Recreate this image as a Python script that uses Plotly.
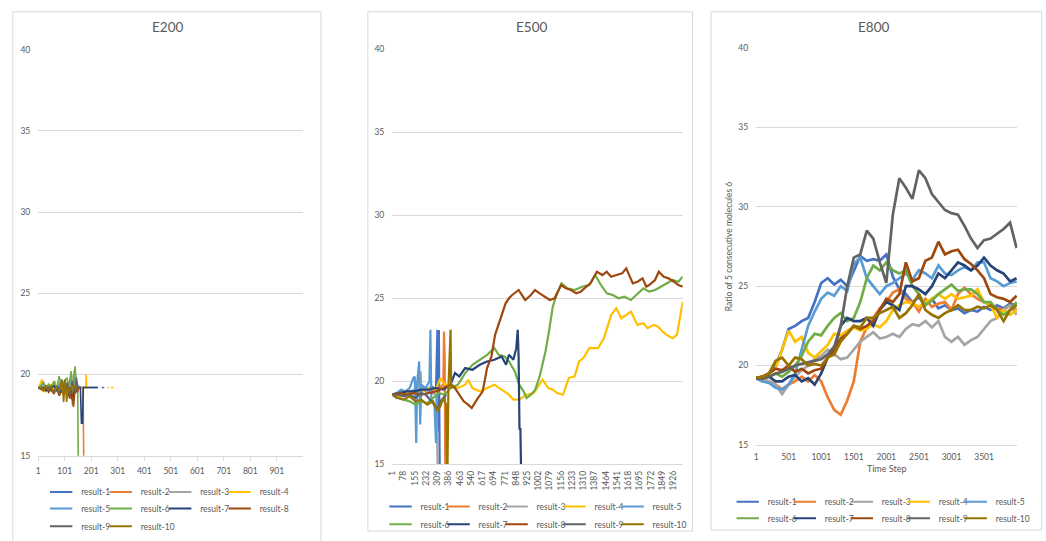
import plotly.graph_objects as go

W, H = 1046, 541
FONT = "Lato, 'Liberation Sans', sans-serif"
TXT = "#595959"
GRID = "#d9d9d9"

NAMES = ["result-1", "result-2", "result-3", "result-4", "result-5",
         "result-6", "result-7", "result-8", "result-9", "result-10"]
COLORS = ["#4472C4", "#ED7D31", "#A5A5A5", "#FFC000", "#5B9BD5",
          "#70AD47", "#264478", "#9E480E", "#636363", "#997300"]

# ---------------- E200 (time step, value) ----------------
E200_R1 = [(1, 19.2), (10, 19.3), (20, 19.1), (30, 19.3), (40, 19.2), (50, 19.0), (60, 19.4), (70, 19.1),
           (80, 19.3), (90, 19.0), (100, 19.5), (110, 19.1), (120, 19.6), (130, 19.0), (134, 20.0), (140, 19.2),
           (150, 19.3), (160, 19.2), (200, 19.2), (226, 19.2), (232, None), (240, 19.2), (250, 19.2)]
E200_R2 = [(1, 19.2), (10, 19.1), (20, 19.2), (30, 19.0), (40, 19.3), (50, 19.1), (60, 18.8), (70, 19.2),
           (80, 18.7), (90, 19.1), (100, 19.0), (110, 19.3), (120, 18.9), (130, 19.2), (140, 18.8), (150, 19.2),
           (160, 19.2), (170, 19.2), (173, 14.0)]
E200_R3 = [(1, 19.2), (10, 19.3), (20, 19.6), (30, 19.1), (40, 19.4), (50, 19.0), (60, 19.3), (70, 19.1),
           (80, 19.5), (90, 18.9), (100, 19.4), (110, 19.0), (120, 19.5), (130, 19.0), (140, 19.3), (150, 19.2)]
E200_R4 = [(1, 19.2), (8, 19.4), (14, 19.7), (20, 19.0), (26, 18.9), (32, 19.3), (40, 19.1), (48, 19.4),
           (56, 19.2), (64, 19.6), (72, 19.0), (80, 19.3), (90, 19.2), (100, 19.5), (110, 19.1), (120, 19.4),
           (130, 19.2), (136, 20.2), (142, 19.2), (160, 19.2), (180, 19.2), (182, 20.0), (184, 19.2), (200, 19.2),
           (205, None), (262, 19.2), (268, 19.2), (271, None), (275, 19.2), (285, 19.2)]
E200_R5 = [(1, 19.2), (10, 19.2), (20, 19.4), (30, 19.0), (40, 19.3), (50, 19.1), (60, 19.5), (70, 19.0),
           (80, 19.4), (90, 19.1), (100, 19.6), (110, 19.0), (120, 19.7), (130, 19.1), (140, 19.9), (146, 19.2),
           (160, 19.2)]
E200_R6 = [(1, 19.2), (10, 19.3), (20, 19.5), (30, 19.1), (40, 19.4), (50, 19.2), (60, 19.6), (70, 19.0),
           (80, 19.9), (90, 19.1), (100, 19.6), (110, 19.8), (115, 19.0), (120, 19.7), (125, 20.2), (130, 18.1),
           (135, 19.8), (140, 20.5), (145, 19.2), (150, 19.2), (152, 14.0)]
E200_R7 = [(1, 19.2), (10, 19.1), (20, 19.2), (30, 19.0), (40, 19.2), (50, 19.1), (60, 19.3), (70, 19.0),
           (80, 19.2), (90, 18.9), (100, 19.3), (110, 19.0), (120, 19.2), (130, 18.4), (140, 19.2), (150, 19.2),
           (160, 19.2), (164, 17.0), (168, 17.0), (171, 19.2), (200, 19.2), (226, 19.2)]
E200_R8 = [(1, 19.2), (10, 19.1), (20, 19.0), (30, 19.2), (40, 18.9), (50, 19.1), (60, 18.8), (70, 19.2),
           (80, 18.7), (90, 19.0), (100, 18.8), (110, 19.1), (120, 18.5), (126, 19.2), (134, 18.0), (140, 19.2),
           (148, 18.9), (155, 19.2)]
E200_R9 = [(1, 19.2), (10, 19.2), (20, 19.1), (30, 19.3), (40, 19.0), (50, 19.2), (60, 18.9), (70, 19.3),
           (80, 18.8), (90, 19.7), (100, 18.8), (110, 19.5), (120, 18.7), (130, 19.6), (140, 18.8), (145, 19.8),
           (150, 19.2), (160, 19.2)]
E200_R10 = [(1, 19.2), (10, 19.2), (20, 19.0), (30, 19.3), (40, 19.1), (50, 19.3), (60, 18.9), (70, 19.2),
            (80, 19.0), (90, 19.6), (97, 18.3), (102, 19.7), (108, 18.3), (114, 19.2), (120, 19.0), (130, 19.3),
            (140, 19.2), (150, 19.2)]

# ---------------- E500 (time step, value) ----------------
E500_R1 = [(1, 19.2), (30, 19.0), (60, 19.3), (90, 19.4), (120, 19.3), (150, 19.5), (180, 19.4), (210, 19.6),
           (240, 19.5), (270, 19.7), (300, 19.5), (310, 23.1), (316, 17.0), (320, 23.1), (326, 14.0)]
E500_R2 = [(1, 19.2), (40, 19.3), (80, 19.4), (120, 19.3), (160, 19.4), (200, 19.5), (240, 19.4), (280, 19.5),
           (320, 19.6), (350, 19.8), (355, 23.0), (360, 21.5), (364, 14.0), (370, 14.5), (374, 14.0)]
E500_R3 = [(1, 19.2), (40, 19.3), (80, 19.2), (120, 19.4), (160, 19.5), (190, 20.3), (195, 20.6), (200, 19.6),
           (240, 19.4), (280, 19.3), (305, 19.2), (312, 14.0)]
E500_R4 = [(1, 19.2), (50, 19.1), (100, 19.3), (150, 19.2), (200, 19.4), (250, 19.6), (300, 19.5), (330, 20.2),
           (360, 19.8), (400, 19.8), (450, 19.6), (500, 19.8), (520, 20.1), (550, 19.6), (600, 19.4), (650, 19.6),
           (700, 19.8), (750, 19.5), (800, 19.2), (830, 18.9), (870, 18.9), (920, 19.2), (970, 19.3), (1030, 20.1),
           (1070, 19.6), (1100, 19.5), (1130, 19.3), (1170, 19.2), (1210, 20.2), (1250, 20.3), (1280, 21.2),
           (1310, 21.4), (1350, 22.0), (1410, 22.0), (1450, 22.6), (1500, 24.0), (1535, 24.4), (1570, 23.8),
           (1600, 24.0), (1635, 24.2), (1680, 23.4), (1720, 23.5), (1750, 23.2), (1790, 23.4), (1820, 23.3),
           (1850, 23.0), (1880, 22.8), (1920, 22.6), (1950, 22.8), (1970, 23.8), (1990, 24.8)]
E500_R5 = [(1, 19.2), (30, 19.3), (60, 19.5), (90, 19.4), (120, 19.6), (145, 20.2), (155, 20.3), (165, 16.3),
           (172, 20.0), (185, 21.2), (192, 17.4), (200, 19.8), (230, 19.6), (255, 20.0), (262, 23.1), (268, 19.0),
           (290, 18.5), (300, 16.3), (305, 19.2)]
E500_R6 = [(1, 19.2), (40, 19.0), (80, 18.9), (120, 18.8), (160, 18.6), (200, 18.8), (240, 18.7), (280, 19.0),
           (320, 19.3), (360, 19.2), (400, 19.6), (450, 19.8), (500, 20.5), (550, 21.0), (600, 21.3), (650, 21.6),
           (700, 22.0), (730, 21.6), (770, 21.5), (800, 21.2), (840, 20.6), (870, 19.8), (900, 19.4), (920, 19.0),
           (950, 19.2), (980, 19.5), (1010, 20.3), (1030, 21.0), (1050, 21.8), (1070, 22.8), (1085, 23.7),
           (1100, 24.5), (1130, 25.3), (1160, 25.9), (1200, 25.6), (1250, 25.5), (1300, 25.7), (1350, 25.8),
           (1390, 26.4), (1430, 25.8), (1470, 25.3), (1510, 25.2), (1550, 25.0), (1590, 25.1), (1635, 24.9),
           (1680, 25.3), (1720, 25.6), (1760, 25.4), (1800, 25.5), (1840, 25.7), (1880, 25.9), (1920, 26.1),
           (1960, 26.0), (1990, 26.3)]
E500_R7 = [(1, 19.2), (50, 19.3), (100, 19.4), (150, 19.4), (200, 19.5), (250, 19.5), (300, 19.6), (350, 19.5),
           (400, 19.8), (430, 20.5), (460, 20.3), (500, 20.8), (550, 20.7), (600, 21.0), (650, 21.2), (700, 21.3),
           (750, 21.5), (780, 21.0), (800, 21.6), (830, 21.3), (850, 22.0), (860, 23.1), (866, 21.5), (872, 17.1),
           (878, 17.2), (884, 14.0)]
E500_R8 = [(1, 19.2), (50, 19.3), (100, 19.2), (150, 19.3), (200, 19.2), (250, 19.3), (300, 19.4), (350, 19.6),
           (400, 19.8), (430, 19.6), (460, 19.2), (490, 18.8), (520, 18.6), (545, 18.4), (580, 18.9), (620, 19.4),
           (650, 20.8), (680, 21.5), (705, 22.8), (720, 23.2), (745, 23.8), (777, 24.7), (800, 25.0), (822, 25.2),
           (866, 25.5), (911, 24.9), (950, 25.2), (978, 25.5), (1010, 25.3), (1045, 25.1), (1080, 24.9),
           (1112, 25.0), (1157, 25.8), (1190, 25.6), (1224, 25.5), (1260, 25.3), (1291, 25.4), (1330, 25.7),
           (1358, 25.9), (1402, 26.6), (1440, 26.4), (1469, 26.6), (1500, 26.3), (1536, 26.4), (1575, 26.5),
           (1603, 26.8), (1625, 26.3), (1648, 25.9), (1680, 26.0), (1715, 26.2), (1740, 25.7), (1760, 25.8),
           (1800, 26.1), (1826, 26.6), (1860, 26.3), (1893, 26.2), (1930, 26.0), (1960, 25.8), (1990, 25.7)]
E500_R9 = [(1, 19.2), (40, 19.2), (80, 19.1), (120, 19.2), (160, 19.0), (200, 19.3), (230, 19.2), (260, 18.9),
           (290, 18.6), (310, 18.3), (330, 18.8), (350, 19.0), (370, 19.2)]
E500_R10 = [(1, 19.2), (40, 19.0), (80, 18.9), (120, 19.1), (160, 18.8), (200, 18.9), (240, 18.6), (280, 18.8),
            (310, 18.2), (330, 18.5), (350, 19.0), (370, 18.6), (378, 14.0), (385, 19.5), (400, 23.1),
            (404, 19.6), (420, 19.8)]

# ---------------- E800 (shared time steps) ----------------
E800_STEPS = [1] + list(range(100, 4001, 100))
E800_R1 = [19.2, 19.3, 19.5, 20.0, 21.0, 22.3, 22.5, 22.8, 23.0, 24.0, 25.2, 25.5, 25.1, 25.4, 25.0, 26.0, 26.9,
           26.6, 26.7, 26.6, 27.0, 25.6, 24.8, 24.5, 24.0, 24.3, 23.8, 24.2, 23.6, 23.8, 23.5, 23.6, 23.3, 23.5,
           23.4, 23.7, 23.5, 23.8, 23.6, 23.9, 23.8]
E800_R2 = [19.2, 19.1, 19.0, 18.8, 18.5, 18.8, 19.0, 19.3, 19.0, 19.4, 19.0, 18.0, 17.2, 16.9, 17.8, 19.0, 21.5,
           22.4, 23.0, 23.6, 24.0, 24.6, 24.8, 24.2, 24.0, 23.4, 24.2, 23.7, 23.9, 24.0, 23.5, 24.5, 24.9, 24.5,
           24.2, 24.0, 23.8, 23.6, 23.5, 23.8, 23.5]
E800_R3 = [19.2, 19.0, 19.0, 18.8, 18.2, 18.8, 19.3, 19.7, 20.0, 20.4, 20.6, 21.0, 20.7, 20.4, 20.5, 21.0, 21.5,
           21.8, 22.1, 21.7, 21.8, 22.0, 21.8, 22.3, 22.6, 22.5, 22.8, 22.4, 22.8, 21.8, 21.5, 21.8, 21.3, 21.6,
           21.8, 22.3, 22.8, 23.0, 23.5, 23.8, 23.2]
E800_R4 = [19.2, 19.3, 19.5, 19.8, 21.0, 22.2, 21.5, 21.8, 20.8, 20.5, 20.9, 21.3, 22.0, 21.9, 22.2, 22.4, 22.2,
           22.3, 22.6, 22.4, 22.8, 23.5, 23.8, 24.0, 23.9, 23.7, 24.0, 24.2, 24.5, 24.2, 24.5, 24.2, 24.3, 24.4,
           24.8, 24.0, 23.8, 23.0, 23.5, 23.2, 23.5]
E800_R5 = [19.2, 19.0, 18.9, 18.6, 18.5, 18.8, 19.5, 21.0, 22.5, 23.4, 24.2, 24.6, 24.4, 25.0, 24.7, 26.4, 26.8,
           25.5, 25.0, 24.5, 25.0, 25.2, 25.5, 25.8, 25.4, 26.0, 25.8, 25.5, 26.3, 25.8, 25.7, 26.0, 26.2, 26.0,
           26.5, 26.5, 25.5, 25.3, 25.0, 25.2, 25.3]
E800_R6 = [19.2, 19.2, 19.3, 19.5, 19.3, 19.6, 20.0, 20.6, 21.5, 22.0, 21.9, 22.5, 23.0, 23.3, 22.8, 23.0, 24.0,
           25.5, 26.3, 26.0, 26.5, 26.0, 25.8, 26.0, 25.0, 24.5, 23.8, 24.1, 24.5, 24.8, 25.1, 24.7, 24.8, 24.8,
           24.5, 24.0, 24.0, 23.5, 23.2, 23.5, 24.0]
E800_R7 = [19.2, 19.2, 19.3, 19.0, 19.0, 19.3, 19.4, 19.0, 19.2, 18.8, 19.5, 20.5, 21.0, 22.5, 23.0, 22.8, 22.8,
           23.0, 22.5, 23.5, 24.0, 23.8, 23.5, 25.0, 25.0, 24.8, 24.5, 25.0, 25.8, 25.5, 26.0, 26.5, 26.3, 26.0,
           26.3, 26.8, 26.3, 26.0, 25.8, 25.3, 25.5]
E800_R8 = [19.2, 19.3, 19.5, 19.8, 19.7, 20.0, 19.6, 19.8, 19.5, 19.7, 19.8, 20.5, 21.0, 21.7, 22.0, 22.5, 22.3,
           22.5, 22.8, 23.5, 24.2, 24.0, 24.5, 26.5, 25.3, 25.5, 26.6, 26.8, 27.8, 27.0, 27.2, 27.3, 26.7, 26.4,
           26.0, 25.5, 24.5, 24.3, 24.2, 24.0, 24.4]
E800_R9 = [19.2, 19.2, 19.3, 19.5, 19.6, 19.8, 20.0, 20.1, 20.2, 20.3, 20.4, 20.7, 21.2, 22.5, 25.0, 26.8, 27.0,
           28.5, 28.0, 26.5, 25.2, 29.5, 31.8, 31.2, 30.5, 32.3, 31.8, 30.8, 30.3, 29.8, 29.6, 29.5, 28.8, 28.0,
           27.4, 27.9, 28.0, 28.3, 28.6, 29.0, 27.4]
E800_R10 = [19.2, 19.3, 19.5, 20.3, 20.5, 20.0, 20.5, 20.4, 20.0, 20.1, 20.0, 20.5, 20.7, 21.5, 22.0, 22.5, 22.4,
            23.0, 23.0, 23.3, 23.5, 23.7, 23.0, 23.3, 23.8, 24.5, 23.5, 23.2, 23.0, 23.3, 23.5, 23.8, 23.5, 23.5,
            23.7, 23.6, 23.8, 23.5, 22.8, 23.5, 23.8]

# ---------------- tick labels ----------------
Y_TICKS = [15, 20, 25, 30, 35, 40]
E200_TICKS = [1, 101, 201, 301, 401, 501, 601, 701, 801, 901]
E500_TICKS = [1, 78, 155, 232, 309, 386, 463, 540, 617, 694, 771, 848, 925, 1002, 1079, 1156, 1233, 1310,
              1387, 1464, 1541, 1618, 1695, 1772, 1849, 1926]
E800_TICKS = [1, 501, 1001, 1501, 2001, 2501, 3001, 3501]

E200_SERIES = [E200_R1, E200_R2, E200_R3, E200_R4, E200_R5, E200_R6, E200_R7, E200_R8, E200_R9, E200_R10]
E500_SERIES = [E500_R1, E500_R2, E500_R3, E500_R4, E500_R5, E500_R6, E500_R7, E500_R8, E500_R9, E500_R10]
E800_SERIES = [E800_R1, E800_R2, E800_R3, E800_R4, E800_R5, E800_R6, E800_R7, E800_R8, E800_R9, E800_R10]


def fx(px):
    return px / W


def fy(py):
    return 1 - py / H


fig = go.Figure()

# legend rows (one plotly legend per row): (legend id, origin x px, row centre y px, entry width)
P1_ROWS = [("legend", 37, 497, 14.5), ("legend2", 37, 514, 14.5), ("legend3", 37, 532, 14.5)]
P2_ROWS = [("legend4", 384, 512, 13), ("legend5", 384, 530, 13)]
P3_ROWS = [("legend6", 739, 507, 12), ("legend7", 739, 524, 12)]


def add_panel(series_xy, axis_suffix, rows, per_row, width, tag):
    xa = "x" + axis_suffix
    ya = "y" + axis_suffix
    for i, (name, color) in enumerate(zip(NAMES, COLORS)):
        xs, ys = series_xy[i]
        fig.add_trace(go.Scatter(x=xs, y=ys, mode="lines", name=name, xaxis=xa, yaxis=ya,
                                 line=dict(color=color, width=width), showlegend=False,
                                 legendgroup=tag + name, hoverinfo="skip"))
    for i, (name, color) in enumerate(zip(NAMES, COLORS)):
        row = i // per_row
        leg, _, _, ew = rows[row]
        last = (i % per_row == per_row - 1) or (i == len(NAMES) - 1)
        fig.add_trace(go.Scatter(x=[None], y=[None], mode="markers", name=name, xaxis=xa, yaxis=ya,
                                 marker=dict(symbol="line-ew", size=16, color=color,
                                             line=dict(color=color, width=2)),
                                 legend=leg, legendgroup=tag + name, showlegend=True,
                                 legendwidth=45 if last else ew))


p1 = [([p[0] for p in s], [p[1] for p in s]) for s in E200_SERIES]
p2 = [([p[0] for p in s], [p[1] for p in s]) for s in E500_SERIES]
p3 = [(E800_STEPS, s) for s in E800_SERIES]

add_panel(p1, "", P1_ROWS, 4, 1.6, "a")
add_panel(p2, "2", P2_ROWS, 5, 2.2, "b")
add_panel(p3, "3", P3_ROWS, 5, 2.7, "c")

tickfont = dict(family=FONT, size=8.5, color=TXT)

yax = dict(range=[15, 40], tickvals=Y_TICKS, showgrid=True, gridcolor=GRID, gridwidth=1,
           zeroline=False, showline=False, ticks="", tickfont=tickfont, ticklabelstandoff=7,
           fixedrange=True)
xax = dict(showgrid=False, zeroline=False, showline=True, linecolor=GRID, linewidth=1,
           tickfont=tickfont, fixedrange=True)

layout = dict(
    width=W, height=H, margin=dict(l=0, r=0, t=0, b=0),
    paper_bgcolor="white", plot_bgcolor="white", font=dict(family=FONT, color=TXT),
    xaxis=dict(xax, domain=[fx(34), fx(305)], range=[1, 1001], tickvals=E200_TICKS,
               ticks="outside", ticklen=4, tickcolor=GRID, anchor="y", ticklabelstandoff=3),
    yaxis=dict(yax, domain=[fy(460), fy(45.6)], anchor="x"),
    xaxis2=dict(xax, domain=[fx(396), fx(693)], range=[1, 1990], tickvals=E500_TICKS,
                tickangle=-90, ticks="", anchor="y2", ticklabelstandoff=2),
    yaxis2=dict(yax, domain=[fy(469), fy(45)], anchor="x2"),
    xaxis3=dict(xax, domain=[fx(768), fx(1035)], range=[1, 4010], tickvals=E800_TICKS,
                ticks="", anchor="y3", ticklabelstandoff=4,
                title=dict(text="Time Step", font=dict(family=FONT, size=9, color=TXT), standoff=4)),
    yaxis3=dict(yax, domain=[fy(449), fy(44)], anchor="x3",
                title=dict(text="Ratio of 5 consecutive molecules 6",
                           font=dict(family=FONT, size=8.5, color=TXT), standoff=4)),
)

for rows in (P1_ROWS, P2_ROWS, P3_ROWS):
    for leg, x0, yc, ew in rows:
        layout[leg] = dict(orientation="h", x=fx(x0), xanchor="left", y=fy(yc), yanchor="middle",
                           bgcolor="rgba(0,0,0,0)", borderwidth=0, entrywidth=ew,
                           entrywidthmode="pixels", font=dict(family=FONT, size=8.5, color=TXT),
                           traceorder="normal", tracegroupgap=0)

fig.update_layout(**layout)

# chart titles
for text, cx in (("E200", 166), ("E500", 538), ("E800", 888)):
    fig.add_annotation(text=text, x=fx(cx), y=fy(22), xref="paper", yref="paper",
                       xanchor="center", yanchor="middle", showarrow=False,
                       font=dict(family=FONT, size=13.5, color=TXT))

# chart-area borders
for x0, y0, x1, y1 in ((8, 7, 323, 560), (371, 7, 703, 537), (722, 7, 1060, 536)):
    fig.add_shape(type="rect", xref="paper", yref="paper", x0=fx(x0), x1=fx(x1), y0=fy(y1), y1=fy(y0),
                  line=dict(color=GRID, width=1), fillcolor="rgba(0,0,0,0)", layer="below")

fig.write_html("out.html", config={"displayModeBar": False},
               post_script="document.body.style.margin='0';")
